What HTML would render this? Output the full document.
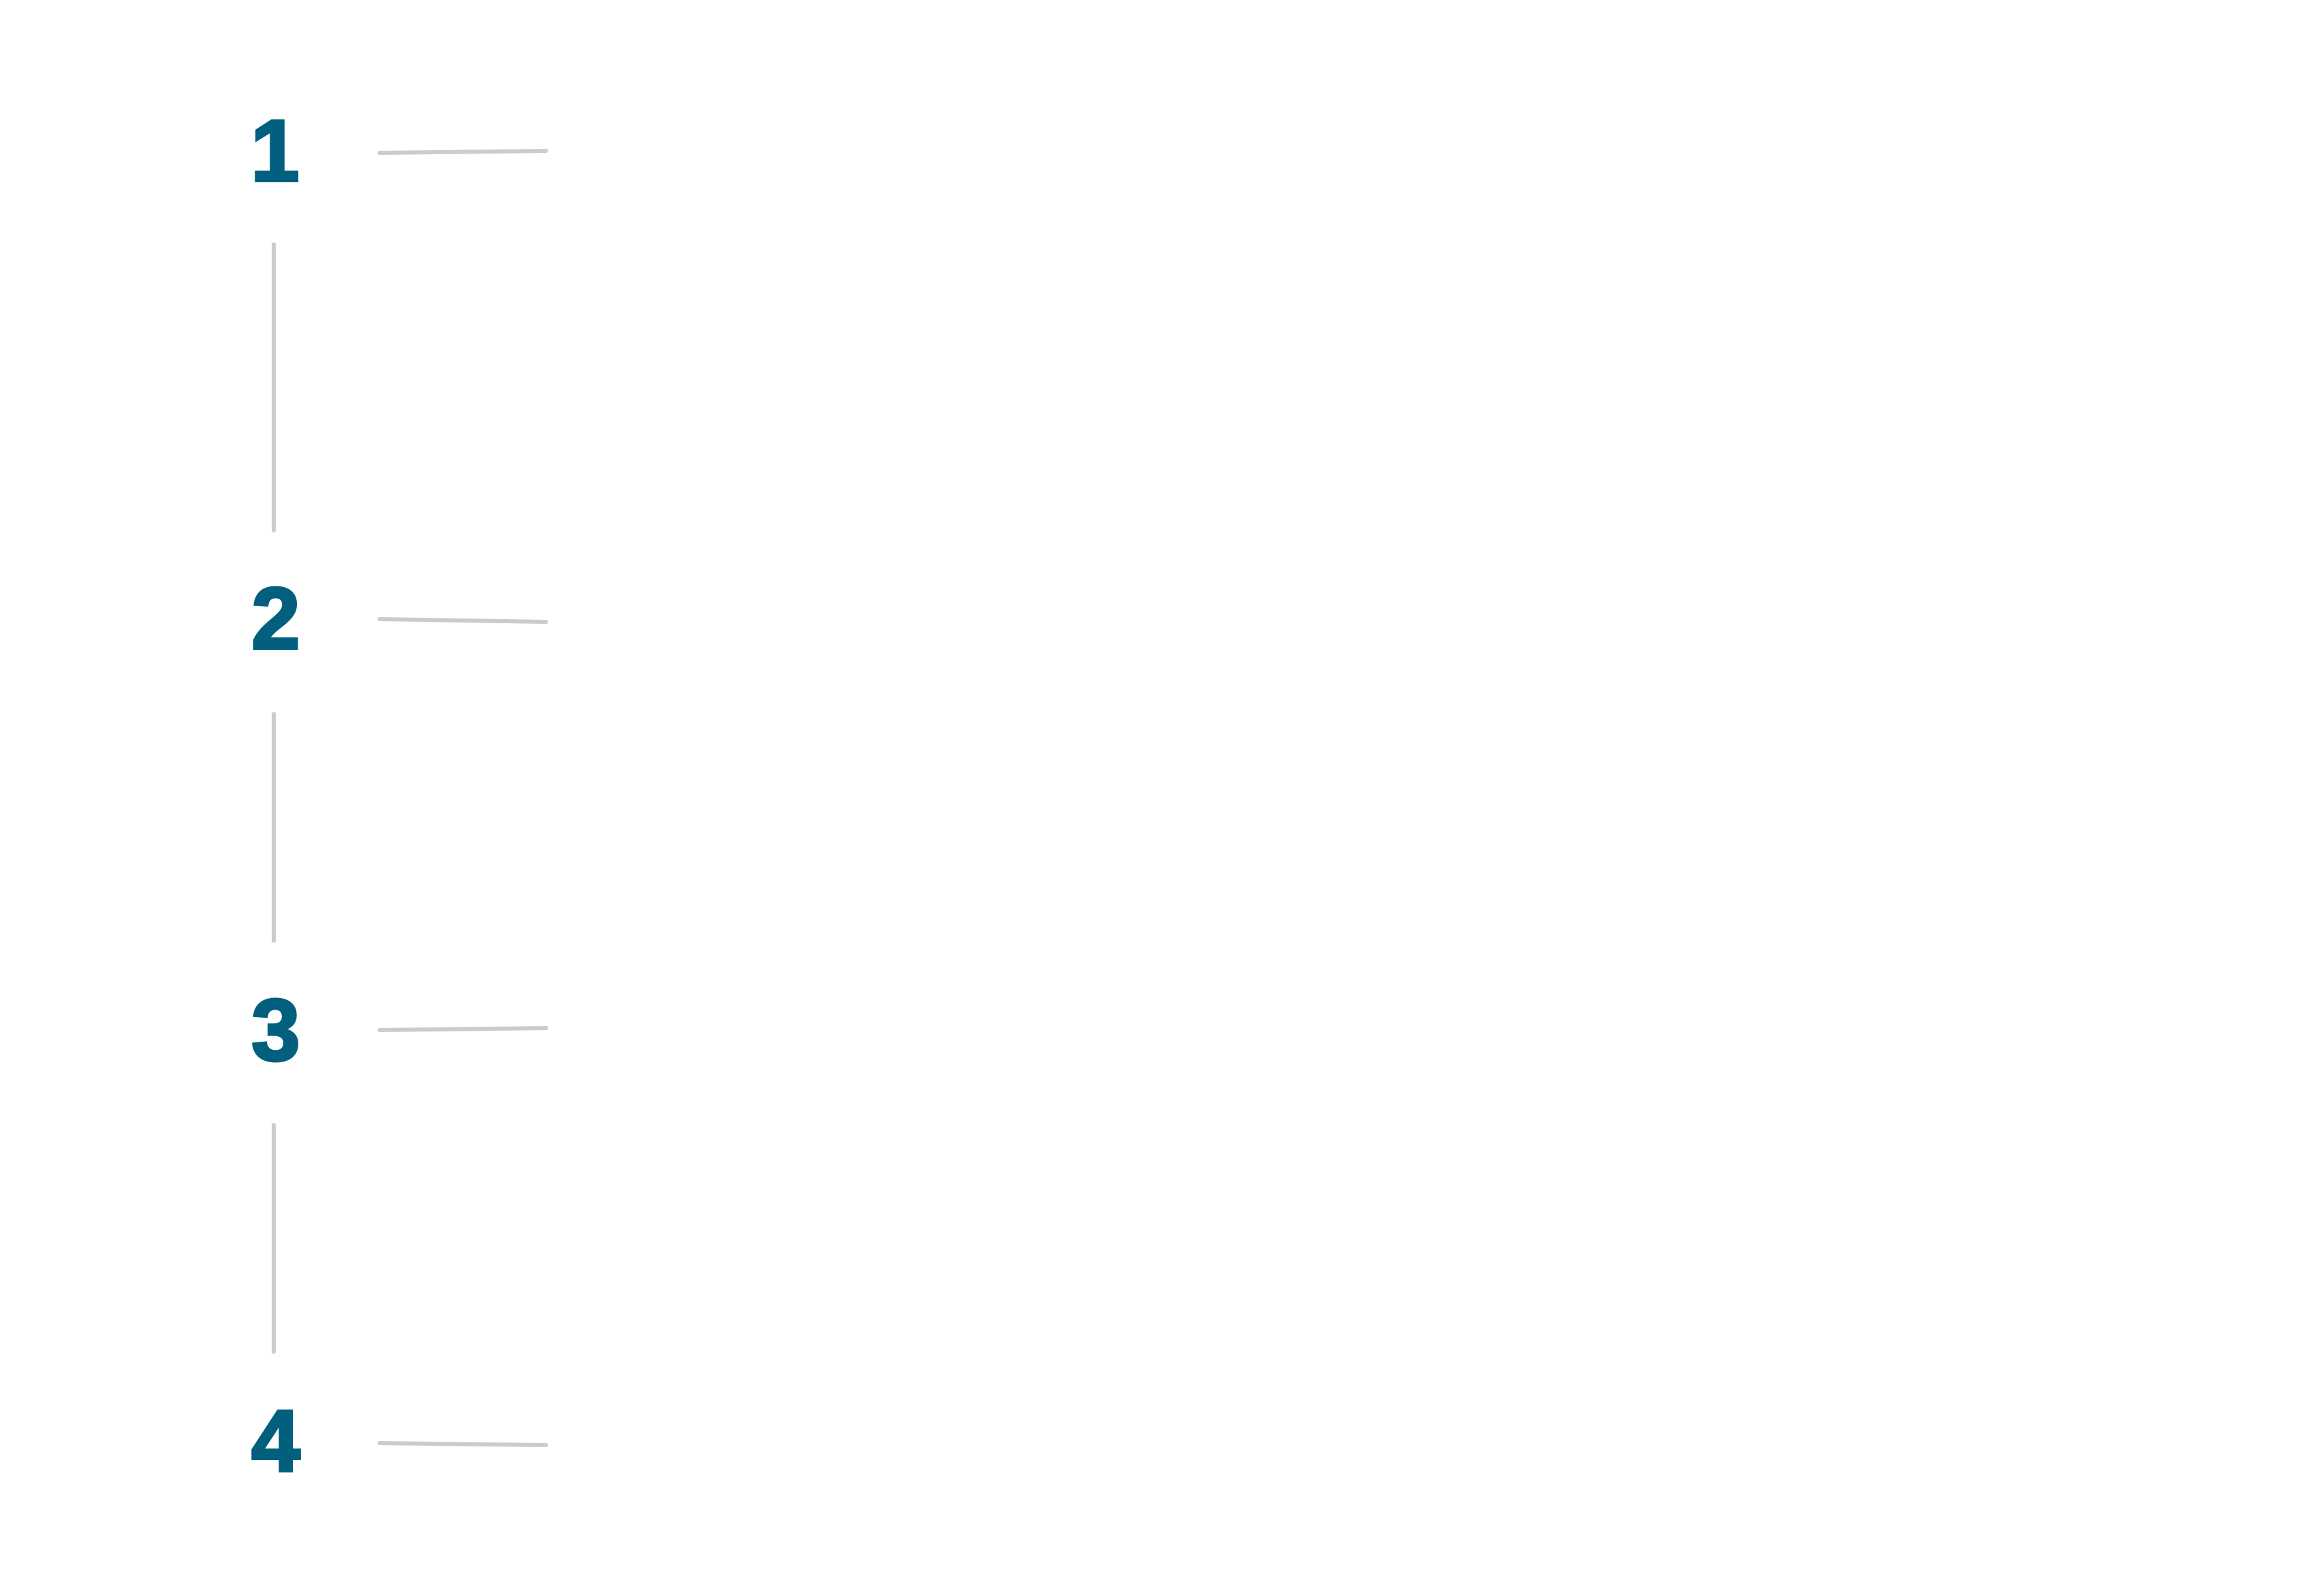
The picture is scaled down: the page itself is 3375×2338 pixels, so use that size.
<!DOCTYPE html>
<html><head><meta charset="utf-8"><style>
html,body{margin:0;padding:0;background:#fff;}
svg{display:block;}
text{font-family:"Liberation Sans",Arial,sans-serif;font-weight:bold;font-size:128px;fill:#02607e;stroke:#02607e;stroke-width:4;stroke-linejoin:miter;}
</style></head><body>
<svg width="3375" height="2338" viewBox="0 0 3375 2338" xmlns="http://www.w3.org/2000/svg">
<rect width="3375" height="2338" fill="#fff"/>
<text x="403" y="265" text-anchor="middle">1</text>
<text x="404" y="950" text-anchor="middle">2</text>
<text x="404" y="1553" text-anchor="middle">3</text>
<text x="404" y="2155" text-anchor="middle">4</text>
<g stroke="#cccccc" stroke-width="6" stroke-linecap="round" fill="none">
<line x1="556" y1="224" x2="800" y2="221"/>
<line x1="556" y1="907" x2="800" y2="911"/>
<line x1="556" y1="1509" x2="800" y2="1506"/>
<line x1="556" y1="2114" x2="800" y2="2117"/>
<line x1="401" y1="358" x2="401" y2="777"/>
<line x1="401" y1="1046" x2="401" y2="1378"/>
<line x1="401" y1="1648" x2="401" y2="1980"/>
</g>
</svg>
</body></html>
